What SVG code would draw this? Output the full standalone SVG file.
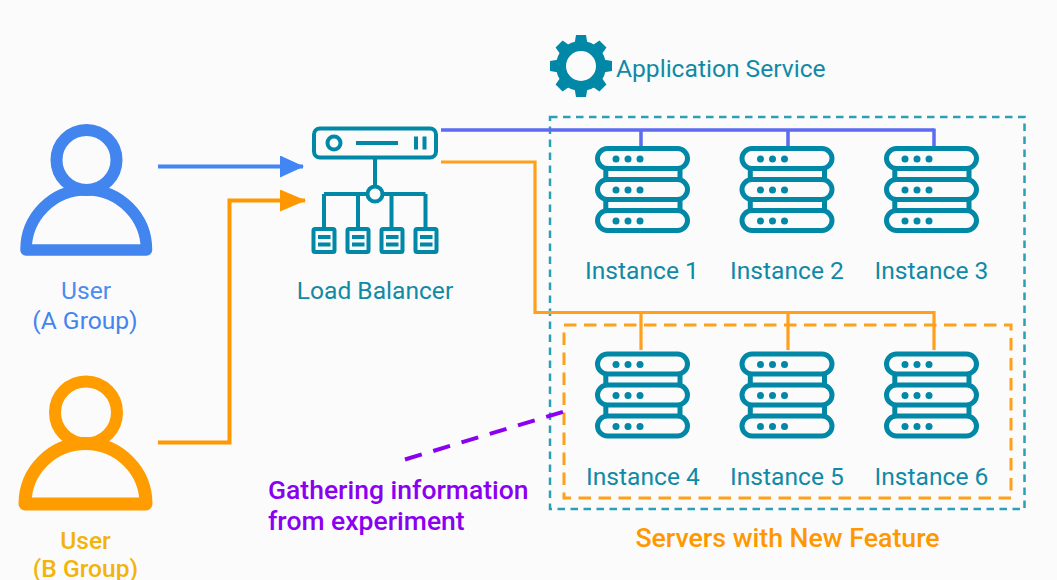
<svg xmlns="http://www.w3.org/2000/svg" xmlns:xlink="http://www.w3.org/1999/xlink" width="1057" height="580" viewBox="0 0 1057 580">
<style>
text{font-family:Roboto,"Liberation Sans",sans-serif;font-size:24.600px}
.teal{fill:#0f8aa6}
.mid{text-anchor:middle}
.ts{fill:none;stroke:#0088a6;stroke-width:4}
.sv{fill:none;stroke:#0088a6;stroke-width:5}
.dot{fill:#0088a6}
.blue{fill:none;stroke:#5c6bf0;stroke-width:3.500}
.or{fill:none;stroke:#ff9f1a;stroke-width:3.500}
</style>
<defs>
<g id="server">
<rect class="sv" x="2.500" y="2.500" width="90" height="20" rx="10"/>
<rect class="sv" x="2.500" y="33.500" width="90" height="20" rx="10"/>
<rect class="sv" x="2.500" y="64.500" width="90" height="20" rx="10"/>
<path class="sv" d="M10.800 23V33M85 23V33M10.800 54V64M85 54V64"/>
<g class="dot">
<circle cx="21" cy="13" r="3.500"/><circle cx="33" cy="13" r="3.500"/><circle cx="45" cy="13" r="3.500"/>
<circle cx="21" cy="44" r="3.500"/><circle cx="33" cy="44" r="3.500"/><circle cx="45" cy="44" r="3.500"/>
<circle cx="21" cy="75" r="3.500"/><circle cx="33" cy="75" r="3.500"/><circle cx="45" cy="75" r="3.500"/>
</g>
</g>
<g id="lbbox">
<rect class="ts" x="-10.500" y="0" width="21" height="23" rx="1.500"/>
<path class="ts" d="M-6 8H6.500M-6 15.500H6.500"/>
</g>
<marker id="ab" markerUnits="userSpaceOnUse" markerWidth="24" markerHeight="22" refX="23" refY="11" orient="auto"><path d="M0 0L24 11L0 22Z" fill="#4285f4"/></marker>
<marker id="ao" markerUnits="userSpaceOnUse" markerWidth="26" markerHeight="22" refX="25" refY="11" orient="auto"><path d="M0 0L26 11L0 22Z" fill="#ff9800"/></marker>
</defs>
<rect width="1057" height="580" fill="#fbfbfb"/>

<g id="regions">
<rect id="application-service-box" x="550" y="117" width="474.500" height="392" fill="none" stroke="#2a9fb5" stroke-width="2.500" stroke-dasharray="7.500 5.500"/>
<rect id="new-feature-box" x="564" y="325" width="447" height="173" fill="none" stroke="#ff9f1a" stroke-width="3" stroke-dasharray="12.500 7.500"/>
</g>

<g id="connectors">
<path d="M158 166.500H303" fill="none" stroke="#4285f4" stroke-width="4" marker-end="url(#ab)"/>
<path d="M158 442.500H229.500V200.500H305" fill="none" stroke="#ff9800" stroke-width="4" marker-end="url(#ao)"/>
<path class="blue" d="M441 130H934M641 130V146M788 130V146"/>
<path class="blue" d="M934 128.500V146"/>
<path class="or" d="M441 162H535V312.500H934M641 312.500V350M788 312.500V350M934 311V350" style="stroke-width:3.200"/>
<path d="M405 459.500L564 411.500" fill="none" stroke="#8a00f0" stroke-width="4" stroke-dasharray="17.500 12"/>
</g>

<g id="user-a">
<circle cx="86.500" cy="160" r="30" fill="none" stroke="#4285ee" stroke-width="12"/>
<path d="M26 250A60.250 60.250 0 0 1 146.500 250Z" fill="none" stroke="#4285ee" stroke-width="11.500" stroke-linejoin="round"/>
<text class="mid" x="86" y="299" fill="#4a8df0">User</text>
<text class="mid" x="85" y="329" fill="#4285ee">(A Group)</text>
</g>

<g id="user-b">
<circle cx="86" cy="412.500" r="31" fill="none" stroke="#ff9c00" stroke-width="12"/>
<path d="M25 504A60.500 60.500 0 0 1 146 504Z" fill="none" stroke="#ff9c00" stroke-width="13" stroke-linejoin="round"/>
<text class="mid" x="85.500" y="549" fill="#f2b40a" font-weight="500">User</text>
<text class="mid" x="85.500" y="577" fill="#f2b40a" font-weight="500">(B Group)</text>
</g>

<g id="load-balancer">
<rect class="ts" x="314" y="128.500" width="122" height="29" rx="6"/>
<circle class="ts" cx="334" cy="143" r="6.500"/>
<path class="ts" d="M356 143H398M416 136.500V149.500M424.500 136.500V149.500"/>
<path class="ts" d="M375 158V187M324 194H368M382 194H425.500M324 194V229M358 194V229M391.500 194V229M425.500 194V229"/>
<circle class="ts" cx="375" cy="194" r="7.500"/>
<use xlink:href="#lbbox" href="#lbbox" x="324" y="229"/>
<use xlink:href="#lbbox" href="#lbbox" x="358" y="229"/>
<use xlink:href="#lbbox" href="#lbbox" x="392" y="229"/>
<use xlink:href="#lbbox" href="#lbbox" x="426" y="229"/>
<text class="teal mid" x="375" y="299">Load Balancer</text>
</g>

<g id="application-service">
<g transform="translate(581 66)" fill="#0088a6">
<circle r="20" fill="none" stroke="#0088a6" stroke-width="10"/>
<g id="teeth">
<path id="tooth" d="M-6.500-22L-5-31H5L6.500-22Z"/>
<use xlink:href="#tooth" href="#tooth" transform="rotate(45)"/>
<use xlink:href="#tooth" href="#tooth" transform="rotate(90)"/>
<use xlink:href="#tooth" href="#tooth" transform="rotate(135)"/>
<use xlink:href="#tooth" href="#tooth" transform="rotate(180)"/>
<use xlink:href="#tooth" href="#tooth" transform="rotate(225)"/>
<use xlink:href="#tooth" href="#tooth" transform="rotate(270)"/>
<use xlink:href="#tooth" href="#tooth" transform="rotate(315)"/>
</g>
</g>
<text class="teal" x="616" y="76.500">Application Service</text>
</g>

<g id="instance-1"><use xlink:href="#server" href="#server" x="595" y="146"/><text class="teal mid" x="642" y="278.500">Instance 1</text></g>
<g id="instance-2"><use xlink:href="#server" href="#server" x="739.500" y="146"/><text class="teal mid" x="787" y="278.500">Instance 2</text></g>
<g id="instance-3"><use xlink:href="#server" href="#server" x="884" y="146"/><text class="teal mid" x="931.500" y="278.500">Instance 3</text></g>
<g id="instance-4"><use xlink:href="#server" href="#server" x="595" y="351.500"/><text class="teal mid" x="643" y="484.500">Instance 4</text></g>
<g id="instance-5"><use xlink:href="#server" href="#server" x="739.500" y="351.500"/><text class="teal mid" x="787" y="484.500">Instance 5</text></g>
<g id="instance-6"><use xlink:href="#server" href="#server" x="884" y="351.500"/><text class="teal mid" x="931.500" y="484.500">Instance 6</text></g>

<text x="268" y="498.500" fill="#8a00f0" font-weight="500" style="font-size:26.500px">Gathering information</text>
<text x="268" y="530" fill="#8a00f0" font-weight="500" style="font-size:26.500px">from experiment</text>
<text class="mid" x="787.500" y="546.500" fill="#ff9800" font-weight="500" style="font-size:26.700px">Servers with New Feature</text>
</svg>
